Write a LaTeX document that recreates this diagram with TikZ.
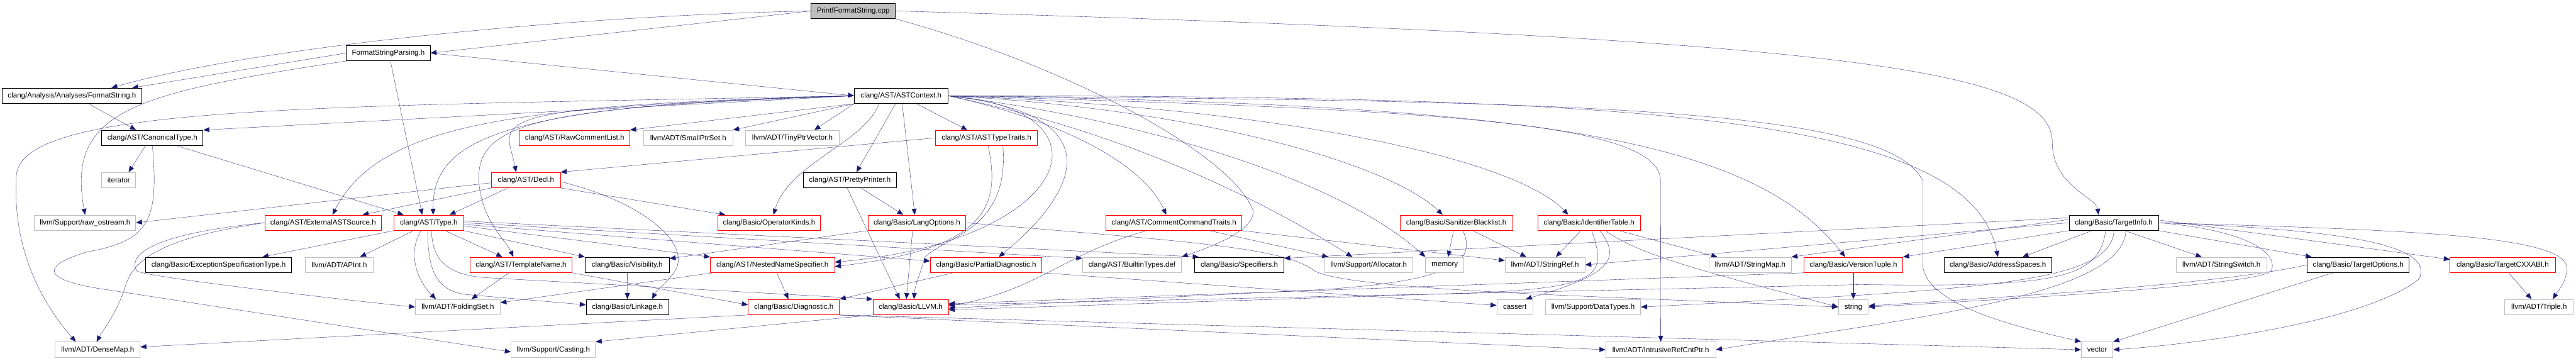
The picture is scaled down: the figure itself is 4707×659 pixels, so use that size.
\documentclass[tikz,border=0pt]{standalone}
\usepackage{fontspec}
\setmainfont{Liberation Sans}
\usetikzlibrary{arrows.meta,calc,backgrounds}
\definecolor{edgeblue}{HTML}{191970}
\definecolor{greyline}{HTML}{BFBFBF}
\definecolor{rootfill}{HTML}{BFBFBF}
\newcommand{\nodefont}{\fontsize{13.3}{16}\selectfont}
\tikzset{every picture/.style={line width=1.3pt}}

\begin{document}
\begin{tikzpicture}[x=1pt,y=1pt,yscale=-1,xscale=1,
    file/.style={draw,rectangle,line width=1pt,fill=white,minimum height=28,inner sep=0pt,font=\nodefont},
    docfile/.style={file,draw=black},
    extfile/.style={file,draw=greyline},
    cutfile/.style={file,draw=red},
    rootfile/.style={file,draw=black,fill=rootfill},
    inc/.style={draw=edgeblue,-{Triangle[length=11pt,width=9pt]}}]
        \useasboundingbox (0,0) rectangle (4707,659);

        \node[rootfile,minimum width=154] (pf) at (1559,20) {PrintfFormatString.cpp};
        \node[docfile,minimum width=153] (fsp) at (709.5,97) {FormatStringParsing.h};
        \node[docfile,minimum width=255] (fs) at (131.5,175) {clang/Analysis/Analyses/FormatString.h};
        \node[docfile,minimum width=171] (ast) at (1646.5,175) {clang/AST/ASTContext.h};

        \node[docfile,minimum width=185] (ct) at (278.5,252) {clang/AST/CanonicalType.h};
        \node[cutfile,minimum width=202] (rcl) at (1050,252) {clang/AST/RawCommentList.h};
        \node[extfile,minimum width=163] (sps) at (1257.5,252) {llvm/ADT/SmallPtrSet.h};
        \node[extfile,minimum width=172] (tpv) at (1448,252) {llvm/ADT/TinyPtrVector.h};
        \node[cutfile,minimum width=187] (att) at (1802.5,252) {clang/AST/ASTTypeTraits.h};

        \node[extfile,minimum width=62] (it) at (217,329) {iterator};
        \node[cutfile,minimum width=126] (decl) at (961,329) {clang/AST/Decl.h};
        \node[docfile,minimum width=170] (pp) at (1553,329) {clang/AST/PrettyPrinter.h};

        \node[extfile,minimum width=185] (ros) at (155.5,407) {llvm/Support/raw\_ostream.h};
        \node[cutfile,minimum width=213] (eas) at (590.5,407) {clang/AST/ExternalASTSource.h};
        \node[cutfile,minimum width=127] (type) at (783.5,407) {clang/AST/Type.h};
        \node[cutfile,minimum width=187] (ok) at (1405.5,407) {clang/Basic/OperatorKinds.h};
        \node[cutfile,minimum width=179] (lo) at (1675.5,407) {clang/Basic/LangOptions.h};
        \node[cutfile,minimum width=248] (cct) at (2145,407) {clang/AST/CommentCommandTraits.h};
        \node[cutfile,minimum width=206] (sbl) at (2661,407) {clang/Basic/SanitizerBlacklist.h};
        \node[cutfile,minimum width=187] (idt) at (2903.5,407) {clang/Basic/IdentifierTable.h};
        \node[docfile,minimum width=163] (ti) at (3862.5,407) {clang/Basic/TargetInfo.h};

        \node[docfile,minimum width=267] (est) at (399.5,484) {clang/Basic/ExceptionSpecificationType.h};
        \node[extfile,minimum width=124] (apint) at (620,484) {llvm/ADT/APInt.h};
        \node[cutfile,minimum width=186] (tn) at (952,484) {clang/AST/TemplateName.h};
        \node[docfile,minimum width=154] (vis) at (1146,484) {clang/Basic/Visibility.h};
        \node[cutfile,minimum width=227] (nns) at (1411.5,484) {clang/AST/NestedNameSpecifier.h};
        \node[cutfile,minimum width=204] (pd) at (1802,484) {clang/Basic/PartialDiagnostic.h};
        \node[extfile,minimum width=181] (bt) at (2068.5,484) {clang/AST/BuiltinTypes.def};
        \node[docfile,minimum width=163] (spec) at (2264.5,484) {clang/Basic/Specifiers.h};
        \node[extfile,minimum width=160] (alloc) at (2501,484) {llvm/Support/Allocator.h};
        \node[extfile,minimum width=70] (mem) at (2640,484) {memory};
        \node[extfile,minimum width=146] (sref) at (2823,484) {llvm/ADT/StringRef.h};
        \node[extfile,minimum width=150] (smap) at (3198,484) {llvm/ADT/StringMap.h};
        \node[cutfile,minimum width=181] (vt) at (3386.5,484) {clang/Basic/VersionTuple.h};
        \node[docfile,minimum width=197] (as) at (3650.5,484) {clang/Basic/AddressSpaces.h};
        \node[extfile,minimum width=166] (sswitch) at (4059,484) {llvm/ADT/StringSwitch.h};
        \node[docfile,minimum width=186] (topt) at (4309,484) {clang/Basic/TargetOptions.h};
        \node[cutfile,minimum width=192] (cxxabi) at (4573,484) {clang/Basic/TargetCXXABI.h};

        \node[extfile,minimum width=155] (fset) at (836.5,561) {llvm/ADT/FoldingSet.h};
        \node[docfile,minimum width=151] (link) at (1146.5,561) {clang/Basic/Linkage.h};
        \node[cutfile,minimum width=167] (diag) at (1450.5,561) {clang/Basic/Diagnostic.h};
        \node[cutfile,minimum width=138] (llvm) at (1664,561) {clang/Basic/LLVM.h};
        \node[extfile,minimum width=66] (cassert) at (2768,561) {cassert};
        \node[extfile,minimum width=174] (dtypes) at (2911,561) {llvm/Support/DataTypes.h};
        \node[extfile,minimum width=55] (str) at (3386.5,561) {string};
        \node[extfile,minimum width=125] (triple) at (4639.5,561) {llvm/ADT/Triple.h};

        \node[extfile,minimum width=155] (dm) at (178.5,639) {llvm/ADT/DenseMap.h};
        \node[extfile,minimum width=154] (casting) at (1011,639) {llvm/Support/Casting.h};
        \node[extfile,minimum width=201] (irc) at (3034.5,639) {llvm/ADT/IntrusiveRefCntPtr.h};
        \node[extfile,minimum width=58] (vec) at (3832,639) {vector};

        \begin{scope}[on background layer]
        % PrintfFormatString.cpp
        \draw[inc] (pf.west) -- (fsp.east);
        \draw[inc] (pf.west) .. controls (1000,30) and (450,90) .. ([xshift=72]fs.north);
        \draw[inc] (pf.east) .. controls (3400,70) and (3750,130) .. (3750,260) .. controls (3750,340) and (3830,360) .. ([xshift=-28]ti.north);
        \draw[inc] (pf.south east) .. controls (1950,120) and (2250,280) .. (2290,385) .. controls (2292,425) and (2200,455) .. (bt.north east);

        % FormatStringParsing.h
        \draw[inc] (fsp.west) -- ([xshift=110]fs.north);
        \draw[inc] (fsp.east) -- (ast.west);
        \draw[inc] ([xshift=4]fsp.south) -- ([xshift=-12]type.north);
        \draw[inc] (fsp.south west) .. controls (250,170) and (120,200) .. (ros.north);
        \draw[inc] ([xshift=30]fs.south) -- ([xshift=-30]ct.north);

        % ASTContext.h
        \draw[inc] (ast.west) -- (ct.north east);
        \draw[inc] (ast.south west) -- (rcl.north east);
        \draw[inc] (ast.south west) -- (sps.north east);
        \draw[inc] (ast.south west) -- ([xshift=40]tpv.north);
        \draw[inc] ([xshift=28]ast.south) -- ([xshift=-35]att.north);
        \draw[inc] ([xshift=-10]ast.south) -- ([xshift=12]pp.north);
        \draw[inc] ([xshift=2]ast.south) -- ([xshift=-4]lo.north);
        \draw[inc] (ast.west) .. controls (850,195) and (925,220) .. ([xshift=-18]decl.north);
        \draw[inc] (ast.west) .. controls (1000,195) and (700,210) .. ([xshift=17]eas.north);
        \draw[inc] (ast.west) .. controls (900,190) and (790,260) .. ([xshift=8]type.north);
        \draw[inc] ([xshift=-40]ast.south) .. controls (1580,260) and (1440,300) .. ([xshift=8]ok.north);
        \draw[inc] (ast.west) .. controls (1000,195) and (870,220) .. (875,330) .. controls (878,400) and (925,440) .. ([xshift=-14]tn.north);
        \draw[inc] (ast.west) .. controls (600,195) and (40,190) .. (30,320) .. controls (20,480) and (100,580) .. ([xshift=-40]dm.north);
        \draw[inc] (ast.east) .. controls (2050,210) and (1960,360) .. ([xshift=23]pd.north);
        \draw[inc] (ast.east) .. controls (2050,200) and (1960,440) .. ($(nns.east)+(0,-5)$);
        \draw[inc] (ast.east) .. controls (1940,220) and (2090,300) .. ([xshift=-14]cct.north);
        \draw[inc] (ast.east) .. controls (2000,230) and (2250,330) .. ([xshift=-30]alloc.north);
        \draw[inc] (ast.east) .. controls (2100,220) and (2450,330) .. (mem.north west);
        \draw[inc] (ast.east) .. controls (2200,200) and (2540,300) .. ([xshift=-25]sbl.north);
        \draw[inc] (ast.east) .. controls (2400,200) and (2780,300) .. ([xshift=-38]idt.north);
        \draw[inc] (ast.east) .. controls (2600,200) and (3034,220) .. (3034,330) -- (irc.north);
        \draw[inc] (ast.east) .. controls (2800,190) and (3200,250) .. ([xshift=-15]vt.north);
        \draw[inc] (ast.east) .. controls (3000,175) and (3600,210) .. (as.north);
        \draw[inc] (ast.east) .. controls (2800,185) and (3450,190) .. (3513,330) -- (3513,480) .. controls (3513,560) and (3700,600) .. (vec.north west);

        % ASTTypeTraits.h
        \draw[inc] (att.west) -- (decl.north east);
        \draw[inc] ([xshift=3]att.south) .. controls (1830,380) and (1800,455) .. ($(nns.east)+(0,3)$);
        \draw[inc] ([xshift=30]att.south) .. controls (1845,420) and (1730,430) .. (1690,470) .. controls (1682,500) and (1672,520) .. ([xshift=6]llvm.north);

        % CanonicalType.h
        \draw[inc] ([xshift=-13]ct.south) -- ([xshift=18]it.north);
        \draw[inc] ([xshift=45]ct.south) -- ([xshift=-46]type.north);
        \draw[inc] (ct.south) .. controls (290,400) and (275,440) .. (160,460) .. controls (60,490) and (90,515) .. (200,530) -- ($(casting.west)+(0,4)$);

        % Decl.h
        \draw[inc] ($(decl.west)+(0,5)$) -- (ros.east);
        \draw[inc] (decl.south west) -- ([xshift=72]eas.north);
        \draw[inc] ([xshift=-33]decl.south) -- ([xshift=38]type.north);
        \draw[inc] (decl.south east) -- ([xshift=-80]ok.north);
        \draw[inc] ($(decl.east)+(0,3)$) .. controls (1180,370) and (1270,450) .. (1230,500) .. controls (1215,520) and (1200,530) .. ([xshift=45]link.north);

        % PrettyPrinter.h
        \draw[inc] ([xshift=20]pp.south) -- ([xshift=-25]lo.north);
        \draw[inc] ([xshift=-5]pp.south) -- ([xshift=-20]llvm.north);

        % ExternalASTSource.h
        \draw[inc] (eas.west) .. controls (300,425) and (230,460) .. (250,495) .. controls (260,505) and (600,545) .. (fset.west);
        \draw[inc] (eas.west) .. controls (330,430) and (250,460) .. (230,520) .. controls (215,570) and (190,600) .. ([xshift=-2]dm.north);

        % Type.h
        \draw[inc] (type.south west) -- ([xshift=80]est.north);
        \draw[inc] ([xshift=-28]type.south) -- ([xshift=38]apint.north);
        \draw[inc] ([xshift=30]type.south) -- ([xshift=-34]tn.north);
        \draw[inc] (type.south east) -- (vis.north west);
        \draw[inc] ($(type.east)+(0,6)$) -- (nns.north west);
        \draw[inc] ($(type.east)+(0,3)$) -- ($(pd.west)+(0,-7)$);
        \draw[inc] (type.east) -- ($(bt.west)+(0,-12)$);
        \draw[inc] ($(type.east)+(0,-3)$) -- ([xshift=8]spec.north west);
        \draw[inc] ([xshift=-14]type.south) .. controls (745,460) and (760,510) .. ([xshift=-40]fset.north);
        \draw[inc] ([xshift=-2]type.south) .. controls (782,500) and (800,530) .. (850,538) -- ($(link.west)+(0,-4)$);
        \draw[inc] ([xshift=5]type.south) .. controls (790,470) and (810,505) .. (900,508) -- (llvm.north west);

        % LangOptions.h
        \draw[inc] (lo.south west) -- ($(vis.north east)+(0,3)$);
        \draw[inc] ([xshift=-8]lo.south) -- ([xshift=-8]llvm.north);
        \draw[inc] (lo.east) .. controls (2150,440) and (2330,450) .. (2395,490) .. controls (2430,530) and (2900,540) .. (str.west);

        % CommentCommandTraits.h
        \draw[inc] ([xshift=-50]cct.south) .. controls (1940,465) and (1900,530) .. ($(llvm.east)+(0,-2)$);
        \draw[inc] ([xshift=65]cct.south) -- ([xshift=-74]alloc.north);
        \draw[inc] (cct.south east) -- ($(sref.west)+(0,-8)$);

        % SanitizerBlacklist.h
        \draw[inc] ([xshift=-5]sbl.south) -- ([xshift=6]mem.north);
        \draw[inc] ([xshift=30]sbl.south) -- ([xshift=-34]sref.north);
        \draw[inc] ([xshift=12]sbl.south) .. controls (2700,480) and (2650,515) .. (2400,530) -- ($(llvm.east)+(0,2)$);

        % IdentifierTable.h
        \draw[inc] ([xshift=-15]idt.south) -- ([xshift=20]sref.north);
        \draw[inc] ([xshift=55]idt.south) -- ([xshift=-60]smap.north);
        \draw[inc] ([xshift=20]idt.south) .. controls (2960,470) and (2950,500) .. ([xshift=20]cassert.north);
        \draw[inc] ([xshift=30]idt.south) .. controls (3000,470) and (3150,505) .. (str.west);
        \draw[inc] ([xshift=5]idt.south) .. controls (2935,500) and (2930,525) .. (2700,535) -- ($(llvm.east)+(0,5)$);

        % TargetInfo.h
        \draw[inc] ([xshift=20]ti.south) -- ([xshift=-36]sswitch.north);
        \draw[inc] (ti.south east) -- ([xshift=-85]topt.north);
        \draw[inc] ($(ti.east)+(0,-5)$) -- ($(cxxabi.west)+(0,-10)$);
        \draw[inc] (ti.east) .. controls (4400,420) and (4690,430) .. (4690,490) .. controls (4690,515) and (4675,530) .. ([xshift=25]triple.north);
        \draw[inc] ([xshift=-40]ti.south) -- ([xshift=45]as.north);
        \draw[inc] (ti.south west) -- (vt.north east);
        \draw[inc] ($(ti.west)+(0,-6)$) -- (smap.north east);
        \draw[inc] (ti.west) -- (sref.east);
        \draw[inc] ($(ti.west)+(0,-9)$) -- ($(spec.east)+(0,-12)$);
        \draw[inc] ([xshift=-15]ti.south) .. controls (3835,510) and (3760,525) .. (3400,520) -- ($(llvm.east)+(0,-4)$);
        \draw[inc] ([xshift=22]ti.south) .. controls (3880,540) and (3500,580) .. (irc.east);
        \draw[inc] (ti.south) .. controls (3860,520) and (3600,530) .. (dtypes.east);
        \draw[inc] (ti.east) .. controls (4100,420) and (4165,460) .. (4150,495) .. controls (4130,520) and (3700,545) .. (str.east);
        \draw[inc] (ti.east) .. controls (4300,420) and (4450,450) .. (4420,510) .. controls (4320,590) and (4000,630) .. (vec.east);

        % lower rows
        \draw[inc] (vt) -- (str);
        \draw[inc] (vt.south west) -- ($(llvm.east)+(0,-6)$);
        \draw[inc] (topt.west) .. controls (4050,520) and (3700,540) .. ($(str.east)+(0,-2)$);
        \draw[inc] ([xshift=-46]topt.south) -- (vec.north east);
        \draw[inc] ([xshift=11]cxxabi.south) -- ([xshift=-14]triple.north);
        \draw[inc] ([xshift=-22]tn.south) -- ([xshift=25]fset.north);
        \draw[inc] (tn.south east) -- ($(diag.west)+(0,-4)$);
        \draw[inc] (vis) -- (link);
        \draw[inc] ([xshift=5]nns.south west) -- ($(fset.east)+(0,-8)$);
        \draw[inc] ([xshift=8]nns.south) -- ([xshift=-10]diag.north);
        \draw[inc] ([xshift=-60]pd.south) -- (diag.north east);
        \draw[inc] (pd.south east) -- ($(cassert.west)+(0,-3)$);
        \draw[inc] (diag.south west) -- ($(dm.east)+(0,-5)$);
        \draw[inc] ([xshift=-5]diag.south east) -- (irc.west);
        \draw[inc] (diag.south east) -- (vec.west);
        \draw[inc] (llvm.south west) -- (casting.north east);
        \end{scope}
\end{tikzpicture}
\end{document}
